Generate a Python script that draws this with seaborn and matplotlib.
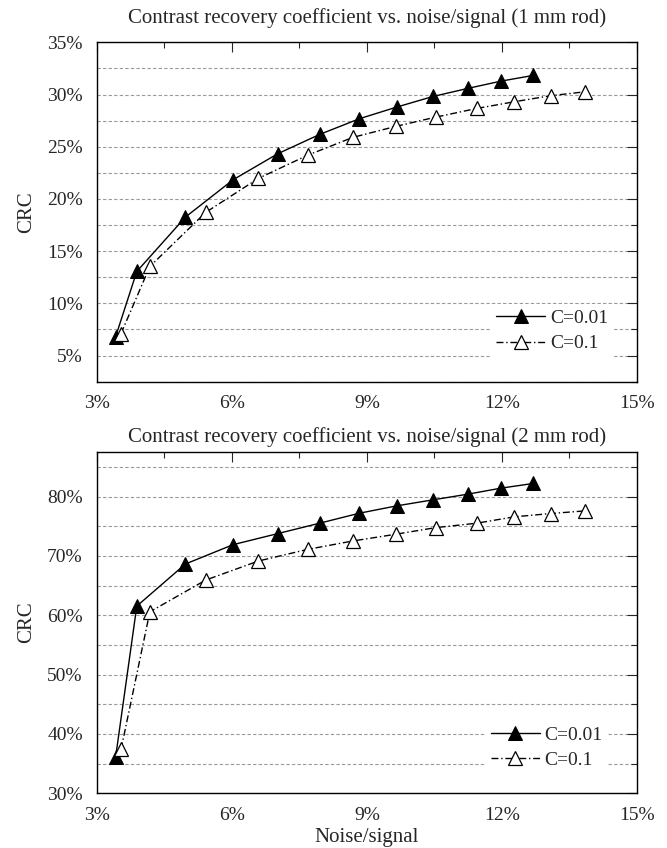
import numpy as np
import pandas as pd
import matplotlib
matplotlib.use('Agg')
import matplotlib.pyplot as plt
import seaborn as sns
from matplotlib.ticker import MultipleLocator, PercentFormatter

# noise/signal (%) and CRC (%)
ns_001 = [3.42, 3.89, 4.97, 6.03, 7.02, 7.95, 8.83, 9.66, 10.47, 11.24, 11.98, 12.70]
ns_01 = [3.54, 4.18, 5.42, 6.59, 7.69, 8.69, 9.64, 10.53, 11.44, 12.27, 13.08, 13.85]

crc_1mm_001 = [6.8, 13.05, 18.26, 21.84, 24.33, 26.18, 27.68, 28.8, 29.82, 30.59, 31.29, 31.84]
crc_1mm_01 = [7.1, 13.53, 18.71, 21.97, 24.2, 25.9, 26.95, 27.84, 28.67, 29.31, 29.89, 30.27]

crc_2mm_001 = [36.1, 61.53, 68.63, 71.89, 73.75, 75.5, 77.18, 78.42, 79.44, 80.39, 81.41, 82.2]
crc_2mm_01 = [37.4, 60.57, 65.92, 69.13, 71.1, 72.51, 73.64, 74.76, 75.5, 76.57, 77.13, 77.58]

titles = ['Contrast recovery coefficient vs. noise/signal (1 mm rod)',
          'Contrast recovery coefficient vs. noise/signal (2 mm rod)']

sns.set_style('white')
plt.rcParams['font.family'] = ['Liberation Serif', 'DejaVu Serif']

fig = plt.figure(figsize=(6.67, 8.48), dpi=100)
ax1 = fig.add_axes([0.145, 0.55, 0.81, 0.40])
ax2 = fig.add_axes([0.145, 0.0645, 0.81, 0.4025])

# axes, series, ylim, labelled ticks, minor step, title pad, legend anchor
panels = [
    (ax1, crc_1mm_001, crc_1mm_01, (2.5, 35), np.arange(5, 36, 5), 2.5, 14, (0.975, 0.04)),
    (ax2, crc_2mm_001, crc_2mm_01, (30, 87.5), np.arange(30, 81, 10), 5, 7, (0.965, 0.025)),
]

for i, (ax, y1, y2, ylim, yt, ymin, tpad, lega) in enumerate(panels):
    d1 = pd.DataFrame({'ns': ns_001, 'crc': y1})
    d2 = pd.DataFrame({'ns': ns_01, 'crc': y2})
    sns.lineplot(data=d1, x='ns', y='crc', ax=ax, color='black', lw=1,
                 marker='^', markersize=10.5, markerfacecolor='black',
                 markeredgecolor='black', label='C=0.01', zorder=3)
    sns.lineplot(data=d2, x='ns', y='crc', ax=ax, color='black', lw=1,
                 linestyle=(0, (5, 2, 1, 2)),
                 marker='^', markersize=10.5, markerfacecolor='white',
                 markeredgecolor='black', markeredgewidth=0.9,
                 label='C=0.1', zorder=3)

    ax.set_xlim(3, 15)
    ax.set_ylim(*ylim)
    ax.xaxis.set_major_locator(MultipleLocator(3))
    ax.xaxis.set_minor_locator(MultipleLocator(1.5))
    ax.set_yticks(yt)
    ax.yaxis.set_minor_locator(MultipleLocator(ymin))
    ax.xaxis.set_major_formatter(PercentFormatter(decimals=0))
    ax.yaxis.set_major_formatter(PercentFormatter(decimals=0))
    ax.grid(True, which='both', axis='y', color='#999999', ls=(0, (3, 2)), lw=0.8)
    ax.tick_params(which='both', direction='in', top=True, right=True,
                   labelsize=14, width=0.8)
    ax.tick_params(which='major', length=7.5, pad=10)
    ax.tick_params(which='minor', length=4.5)
    for s in ax.spines.values():
        s.set_linewidth(1.0)
        s.set_color('black')
    ax.set_title(titles[i], fontsize=15, pad=tpad)
    ax.set_ylabel('CRC', fontsize=15, labelpad=8)
    ax.set_xlabel('Noise/signal' if i == 1 else '', fontsize=15, labelpad=3)
    leg = ax.legend(loc='lower right', bbox_to_anchor=lega,
                    frameon=True, fontsize=14, handlelength=2.5,
                    handletextpad=0.25, borderpad=0.3, labelspacing=0.4,
                    fancybox=False)
    leg.get_frame().set_facecolor('white')
    leg.get_frame().set_edgecolor('none')
    leg.get_frame().set_alpha(1)

fig.savefig('out.png', dpi=100)
